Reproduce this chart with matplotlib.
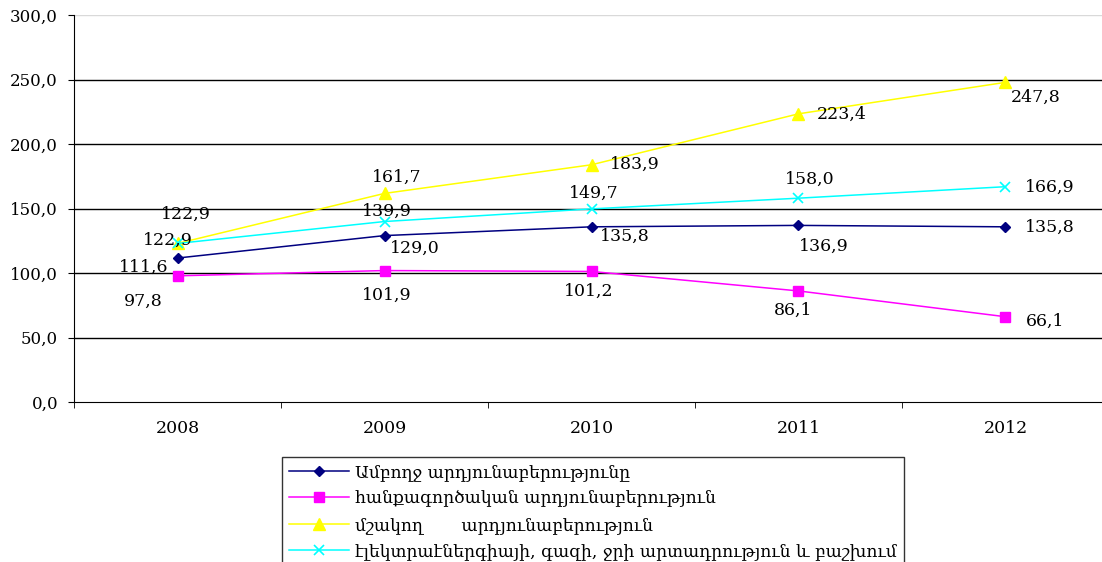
import numpy as np
import matplotlib
matplotlib.use('Agg')
import matplotlib.pyplot as plt

years = ['2008', '2009', '2010', '2011', '2012']

total = [111.6, 129.0, 135.8, 136.9, 135.8]
mining = [97.8, 101.9, 101.2, 86.1, 66.1]
manufacturing = [122.9, 161.7, 183.9, 223.4, 247.8]
energy = [122.9, 139.9, 149.7, 158.0, 166.9]

names = [
    'Ամբողջ արդյունաբերությունը',
    'հանքագործական արդյունաբերություն',
    'մշակող       արդյունաբերություն',
    'էլեկտրաէներգիայի, գազի, ջրի արտադրություն և բաշխում',
]

# label offsets in pixels (dx, dy) from each marker
offsets = [
    [(-34, -9), (30, -13), (33, -10), (25, -21), (44, -1)],
    [(-34, -25), (2, -25), (-3, -20), (-5, -19), (40, -5)],
    [(8, 29), (12, 16), (43, 0), (43, -1), (30, -15)],
    [(-10, 3), (2, 10), (2, 16), (11, 19), (44, -1)],
]

serif = ['DejaVu Serif']

fig = plt.figure(figsize=(11.02, 5.62), dpi=100)
ax = fig.add_axes([74 / 1102, 1 - 402 / 562, 1035 / 1102, 387 / 562])

x = np.arange(len(years))
series = [total, mining, manufacturing, energy]
styles = [
    dict(color='#000080', marker='D', markersize=5.5),
    dict(color='#ff00ff', marker='s', markersize=7.5),
    dict(color='#ffff00', marker='^', markersize=8),
    dict(color='#00ffff', marker='x', markersize=7.5, markeredgewidth=1.2),
]

for vals, name, st, offs in zip(series, names, styles, offsets):
    ax.plot(x, vals, label=name, linewidth=1.1, **st)
    for xi, v, (dx, dy) in zip(x, vals, offs):
        ax.annotate(f'{v:.1f}'.replace('.', ','), xy=(xi, v),
                    xytext=(dx, dy), textcoords='offset pixels',
                    ha='center', va='center', fontsize=12.5, family=serif)

ax.set_xlim(-0.5, 4.5)
ax.set_ylim(0, 300)
ax.set_yticks(np.arange(0, 301, 50))
ax.set_yticklabels([f'{v:.1f}'.replace('.', ',') for v in np.arange(0, 301, 50)],
                   family=serif, fontsize=12)
ax.set_xticks(x)
ax.set_xticklabels(years, family=serif, fontsize=12.5)
ax.set_xticks(np.arange(-0.5, 4.6, 1), minor=True)
ax.tick_params(axis='x', which='major', length=0, pad=13)
ax.tick_params(axis='x', which='minor', length=4.5, direction='out')
ax.tick_params(axis='y', length=4.5, direction='out', pad=7)

for v in range(50, 301, 50):
    ax.axhline(v, color='black' if v < 300 else '#d9d9d9', linewidth=1, zorder=0)

for side in ['top', 'right']:
    ax.spines[side].set_visible(False)

leg = fig.legend(loc='upper left', bbox_to_anchor=(282 / 1102, 1 - 457 / 562),
                 prop={'family': serif, 'size': 12.3}, frameon=True, fancybox=False,
                 handlelength=3.5, borderpad=0.4, labelspacing=0.55,
                 handletextpad=0.4, borderaxespad=0)
leg.get_frame().set_edgecolor('black')
leg.get_frame().set_linewidth(1)

fig.savefig('out.png', dpi=100)
